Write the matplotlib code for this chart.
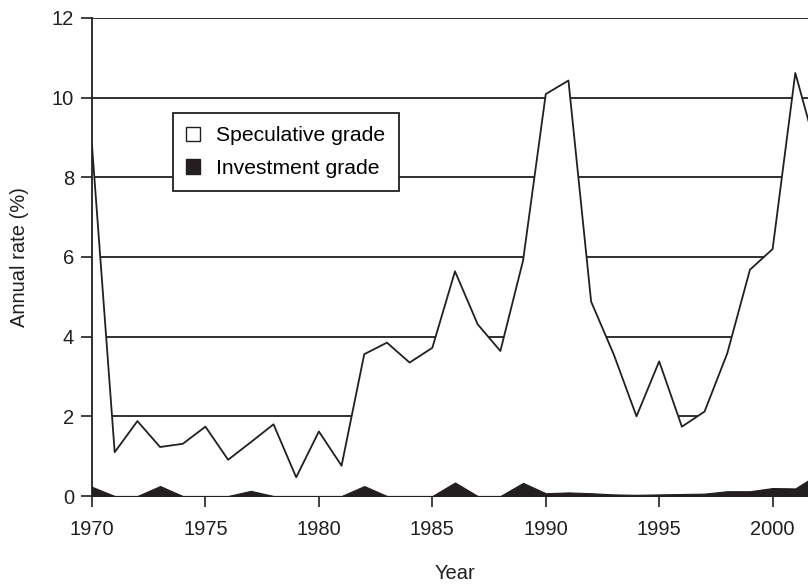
import numpy as np
import matplotlib
matplotlib.use("Agg")
import matplotlib.pyplot as plt
from matplotlib.patches import Patch

plt.rcParams['font.family'] = ['Liberation Sans', 'DejaVu Sans']

years = np.arange(1970, 2003)
speculative = [8.8, 1.10, 1.88, 1.23, 1.31, 1.74, 0.91, 1.35, 1.80, 0.47,
               1.62, 0.76, 3.56, 3.85, 3.35, 3.72, 5.64, 4.31, 3.64, 5.91,
               10.09, 10.43, 4.88, 3.55, 2.00, 3.38, 1.74, 2.12, 3.58, 5.68,
               6.20, 10.62, 8.55]
investment = [0.23, 0.0, 0.0, 0.25, 0.0, 0.0, 0.0, 0.13, 0.0, 0.0,
              0.0, 0.0, 0.25, 0.0, 0.0, 0.0, 0.34, 0.0, 0.0, 0.33,
              0.07, 0.09, 0.07, 0.04, 0.03, 0.04, 0.05, 0.06, 0.12, 0.12,
              0.20, 0.19, 0.55]
y_ticks = [0, 2, 4, 6, 8, 10, 12]
x_ticks = [1970, 1975, 1980, 1985, 1990, 1995, 2000]

ink = '#231f20'
fs = 14.5

fig = plt.figure(figsize=(8.08, 5.84), dpi=100)
ax = fig.add_axes([92 / 808, 1 - 496 / 584, (818 - 92) / 808, (496 - 18) / 584])

ax.set_axisbelow(True)
ax.yaxis.grid(True, color=ink, linewidth=1.3)
ax.fill_between(years, speculative, 0, facecolor='white', edgecolor='none', zorder=1)
ax.plot(years, speculative, color=ink, linewidth=1.3, zorder=3)
ax.fill_between(years, investment, 0, facecolor=ink, edgecolor=ink, linewidth=0.8, zorder=4)

ax.set_xlim(1970, 2002)
ax.set_ylim(0, 12)
ax.set_xticks(x_ticks)
ax.set_yticks(y_ticks)
ax.tick_params(axis='both', direction='out', length=8, width=1.2, color=ink,
               labelsize=fs, labelcolor=ink, pad=5)
ax.tick_params(axis='x', pad=9)

for side in ['top', 'right', 'bottom']:
    ax.spines[side].set_visible(False)
ax.spines['left'].set_color(ink)
ax.spines['left'].set_linewidth(1.3)
ax.spines['left'].set_zorder(5)

ax.set_xlabel('Year', fontsize=fs, color=ink, labelpad=18)
ax.set_ylabel('Annual rate (%)', fontsize=fs, color=ink, labelpad=16)

handles = [Patch(facecolor='white', edgecolor=ink, linewidth=1.0, label='Speculative grade'),
           Patch(facecolor=ink, edgecolor=ink, label='Investment grade')]
leg = ax.legend(handles=handles, loc='upper left', bbox_to_anchor=(0.1116, 0.801),
                borderaxespad=0, fancybox=False, framealpha=1, edgecolor=ink,
                fontsize=15.2, handlelength=0.68, handleheight=0.68, handletextpad=0.75,
                borderpad=0.62, labelspacing=0.65)
leg.get_frame().set_linewidth(1.3)
leg.set_zorder(6)

fig.savefig('out.png', dpi=100)
